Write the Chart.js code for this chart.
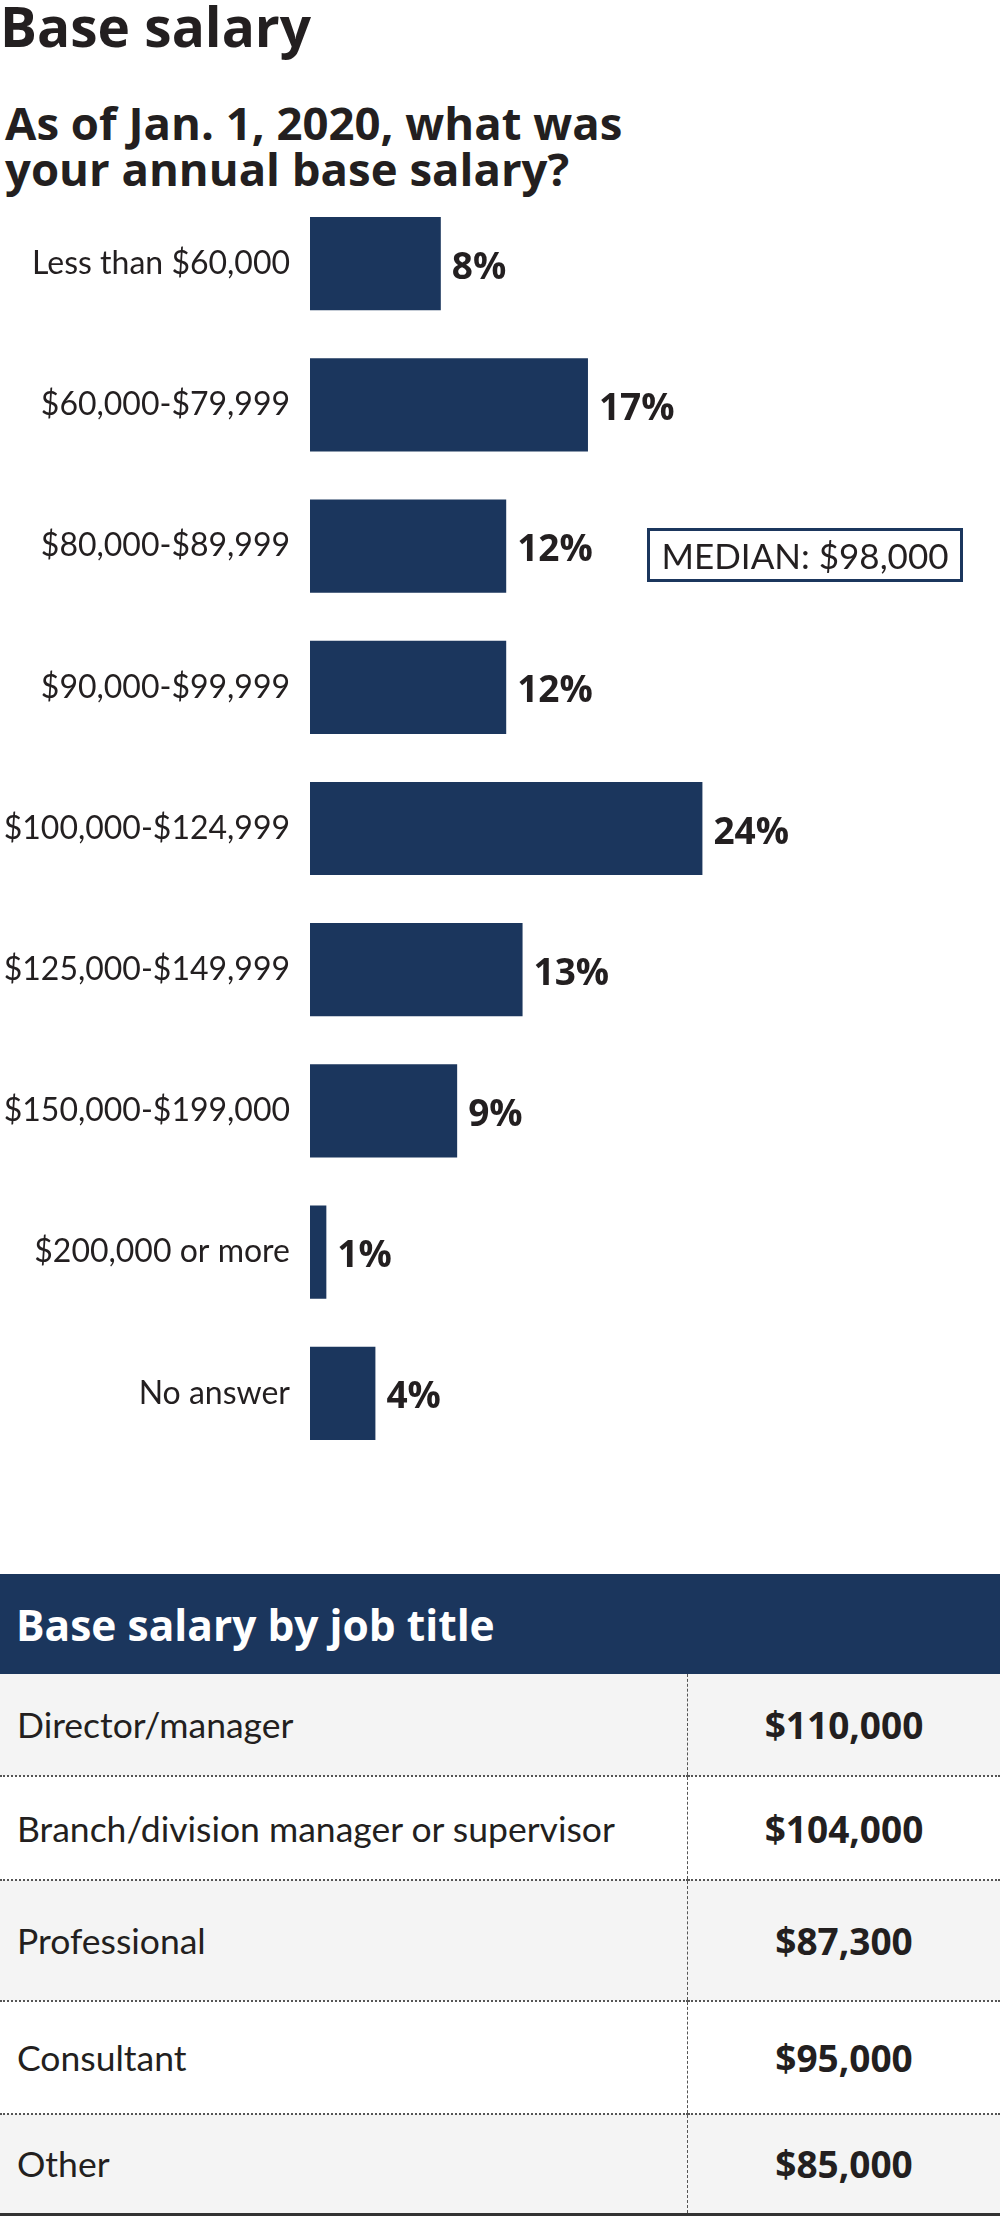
<!DOCTYPE html>
<html lang="en">
<head>
  <meta charset="UTF-8">
  <title>Base salary</title>
  <script src="https://cdn.jsdelivr.net/npm/chart.js"></script>
  <style>
    body {
      margin: 0;
      font-family: Lato, sans-serif;
      color: #231f20;
      background: white;
      width: 1000px;
      height: 2221px;
      position: relative;
      overflow: hidden;
    }
    h1, h2 {
      position: absolute;
      margin: 0;
      font-family: "Open Sans", sans-serif;
      font-weight: 700;
      white-space: nowrap;
    }
    h1 {
      left: 0;
      top: -3px;
      font-size: 55px;
      line-height: 57px;
    }
    h2 {
      left: 5px;
      top: 99px;
      font-size: 45.5px;
      line-height: 46px;
    }
    .chart-box {
      position: absolute;
      left: 0;
      top: 193px;
      width: 1000px;
      height: 1271px;
    }
    .median {
      position: absolute;
      left: 647px;
      top: 528px;
      width: 310px;
      height: 48px;
      border: 3px solid #1b365d;
      font-size: 35px;
      line-height: 49px;
      text-align: center;
    }
    table {
      position: absolute;
      left: 0;
      top: 1574px;
      width: 1000px;
      border-collapse: collapse;
      border-bottom: 3px solid #333;
    }
    th {
      background: #1b365d;
      color: white;
      text-align: left;
      font-family: "Open Sans", sans-serif;
      font-size: 42.5px;
      font-weight: 700;
      height: 100px;
      padding: 0 0 0 16px;
    }
    td {
      font-size: 35.5px;
      padding: 0 0 0 17px;
    }
    td.val {
      text-align: center;
      font-family: "Open Sans", sans-serif;
      font-weight: 700;
      font-size: 37px;
      border-left: 1px dashed #555;
      padding: 0;
      width: 312px;
    }
    tbody tr + tr td { border-top: 2px dotted #555; }
    tbody tr:nth-child(odd) { background: #f4f4f4; }
  </style>
</head>
<body>

  <h1>Base salary</h1>
  <h2>As of Jan. 1, 2020, what was<br>your annual base salary?</h2>

  <div class="chart-box">
    <canvas id="salaryChart"></canvas>
  </div>
  <div class="median">MEDIAN: $98,000</div>

  <table>
    <thead>
      <tr><th colspan="2">Base salary by job title</th></tr>
    </thead>
    <tbody id="titleRows"></tbody>
  </table>

  <script>
    const ranges = ['Less than $60,000', '$60,000-$79,999', '$80,000-$89,999', '$90,000-$99,999',
      '$100,000-$124,999', '$125,000-$149,999', '$150,000-$199,000', '$200,000 or more', 'No answer'];
    const shares = [8, 17, 12, 12, 24, 13, 9, 1, 4];

    const jobTitles = ['Director/manager', 'Branch/division manager or supervisor', 'Professional', 'Consultant', 'Other'];
    const jobSalaries = ['$110,000', '$104,000', '$87,300', '$95,000', '$85,000'];
    const rowHeights = [102, 104, 121, 113, 100];

    // table rows
    const tbody = document.getElementById('titleRows');
    jobTitles.forEach((t, i) => {
      const tr = document.createElement('tr');
      tr.style.height = rowHeights[i] + 'px';
      tr.innerHTML = '<td>' + t + '</td><td class="val">' + jobSalaries[i] + '</td>';
      tbody.appendChild(tr);
    });

    // percent labels at bar end
    const valueLabels = {
      id: 'valueLabels',
      afterDatasetsDraw(chart) {
        const ctx = chart.ctx;
        const meta = chart.getDatasetMeta(0);
        ctx.save();
        ctx.font = '700 37px "Open Sans"';
        ctx.fillStyle = '#231f20';
        ctx.textBaseline = 'alphabetic';
        meta.data.forEach((bar, i) => {
          ctx.fillText(shares[i] + '%', bar.x + 11, bar.y + 15);
        });
        ctx.restore();
      }
    };

    new Chart(document.getElementById('salaryChart'), {
      type: 'bar',
      data: {
        labels: ranges,
        datasets: [{
          data: shares,
          backgroundColor: '#1b365d',
          barPercentage: 1,
          categoryPercentage: 0.66
        }]
      },
      options: {
        indexAxis: 'y',
        responsive: true,
        maintainAspectRatio: false,
        animation: false,
        layout: { padding: 0 },
        plugins: {
          legend: { display: false },
          tooltip: { enabled: false }
        },
        scales: {
          x: {
            display: false,
            min: 0,
            max: 42.2
          },
          y: {
            grid: { display: false, drawTicks: false },
            border: { display: false },
            ticks: {
              padding: 20,
              color: '#231f20',
              font: { family: 'Lato', size: 32 }
            },
            afterFit(scale) {
              scale.width = 310;
              scale.paddingTop = 0;
              scale.paddingBottom = 0;
            }
          }
        }
      },
      plugins: [valueLabels]
    });
  </script>

</body>
</html>
